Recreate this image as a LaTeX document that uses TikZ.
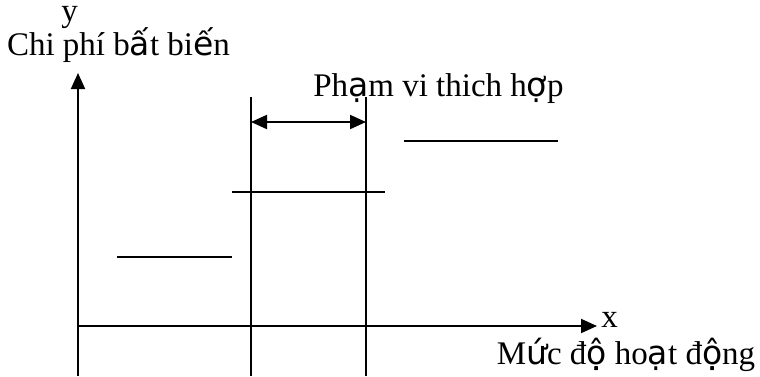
\documentclass[tikz,border=0pt]{standalone}
\usepackage{fontspec}
\setmainfont{Liberation Serif}
\newfontfamily\vnsans{DejaVu Sans}
\newcommand{\vn}[1]{{\vnsans #1}}
\usetikzlibrary{arrows.meta}

\tikzset{
  axis/.style={line width=1pt, -{Triangle[length=8pt,width=7pt]}},
  level/.style={line width=1pt},
  lbl/.style={inner sep=0pt, anchor=base, font=\fontsize{16.5}{19}\selectfont}
}

\begin{document}
\begin{tikzpicture}[x=0.5pt,y=-0.5pt]
\useasboundingbox (0,0) rectangle (760,376);
\coordinate (O) at (78,326);
\coordinate (ytop) at (78,73);
\coordinate (ybot) at (78,376);
\coordinate (xend) at (597,326);
\draw[level] (ybot) -- (O);
\draw[axis] (O) -- (ytop);
\draw[axis] (O) -- (xend);
\node[lbl] (ylab) at (69.5,21) {y};
\node[lbl] (ytext) at (118.5,55) {Chi phí b\vn{ấ}t bi\vn{ế}n};
\node[lbl] (xlab) at (609.5,327) {x};
\node[lbl] (xtext) at (626,364) {M\vn{ứ}c đ\vn{ộ} ho\vn{ạ}t đ\vn{ộ}ng};
% range boundaries
\foreach \u [count=\i] in {251,366} {
  \coordinate (top\i) at (\u,97);
  \coordinate (bot\i) at (\u,376);
  \draw[level] (top\i) -- (bot\i);
}
\coordinate (r1) at (251,122);
\coordinate (r2) at (366,122);
\draw[line width=1pt, {Triangle[length=8pt,width=7pt]}-{Triangle[length=8pt,width=7pt]}] (r1) -- (r2);
\node[lbl] (range) at (438.5,96) {Ph\vn{ạ}m vi thich h\vn{ợ}p};
% fixed cost steps
\draw[level] (117,257) -- (232,257);
\draw[level] (232,192) -- (385,192);
\draw[level] (404,141) -- (558,141);
\end{tikzpicture}
\end{document}
